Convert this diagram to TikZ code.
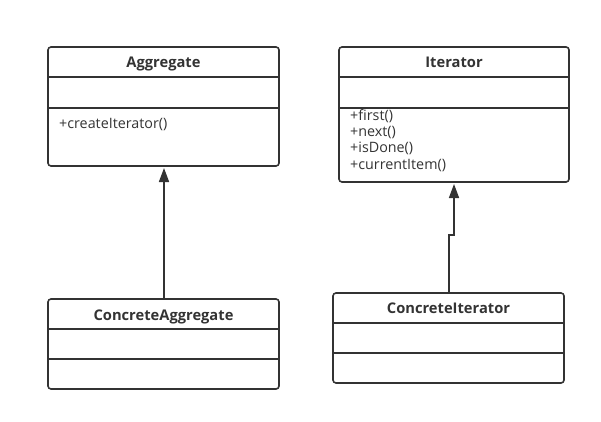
\documentclass[tikz,border=0pt]{standalone}
\usepackage{fontspec}
\setmainfont{Open Sans}
\usetikzlibrary{arrows.meta}
\definecolor{ink}{HTML}{333333}
\begin{document}
\begin{tikzpicture}[x=1pt,y=-1pt,
  box/.style={draw=ink,line width=1.6pt,rounded corners=3pt},
  sep/.style={draw=ink,line width=1.6pt},
  title/.style={font=\fontsize{14.7}{16}\selectfont\bfseries,text=ink,inner sep=0pt,anchor=base},
  meth/.style={font=\fontsize{14.3}{16}\selectfont,text=ink,inner sep=0pt,anchor=base west},
  inh/.style={draw=ink,line width=1.6pt,shorten >=2pt,-{Triangle[length=14pt,width=10pt]}}]
\useasboundingbox (0,0) rectangle (601,422);
% Aggregate
\draw[box] (48,47) rectangle (279,166);
\coordinate (aggB) at (164,166);
\draw[sep] (48,77) -- (279,77);
\draw[sep] (48,108) -- (279,108);
\node[title] (aggT) at (163.5,68) {Aggregate};
\node[meth] (aggM) at (59,129) {+createIterator()};
% Iterator
\draw[box] (339,47) rectangle (569,182);
\coordinate (itB) at (454,182);
\draw[sep] (339,77) -- (569,77);
\draw[sep] (339,108) -- (569,108);
\node[title] (itT) at (454,68) {Iterator};
\node[meth] (itM1) at (350,121) {+first()};
\node[meth] (itM2) at (350,137) {+next()};
\node[meth] (itM3) at (350,153) {+isDone()};
\node[meth] (itM4) at (350,169) {+currentItem()};
% ConcreteAggregate
\draw[box] (48,299) rectangle (279,389);
\coordinate (caT) at (164,299);
\draw[sep] (48,329) -- (279,329);
\draw[sep] (48,359) -- (279,359);
\node[title] (caTitle) at (163.5,320) {ConcreteAggregate};
% ConcreteIterator
\draw[box] (333,293) rectangle (564,383);
\coordinate (ciT) at (449,293);
\draw[sep] (333,323) -- (564,323);
\draw[sep] (333,353) -- (564,353);
\node[title] (ciTitle) at (448.5,313) {ConcreteIterator};
% inheritance arrows
\draw[inh] (caT) -- (aggB);
\draw[inh] (ciT) -- (449,235) -- (454,235) -- (itB);
\end{tikzpicture}
\end{document}
